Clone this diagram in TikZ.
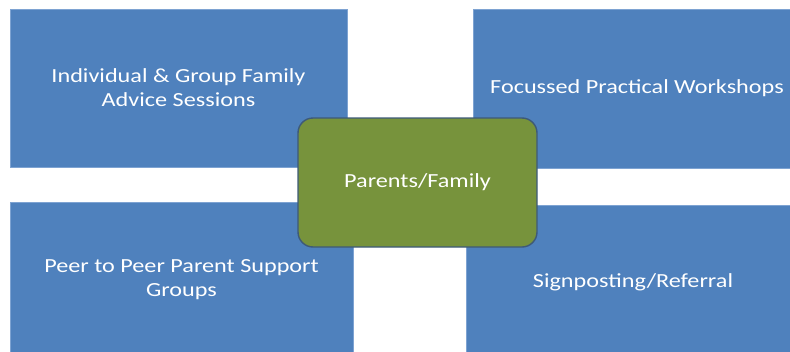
\documentclass[tikz,border=0pt]{standalone}
\usepackage{fontspec}
\setmainfont{Carlito}
\usepackage{graphicx}
\usepackage{tikz}
\definecolor{boxblue}{HTML}{4F81BD}
\definecolor{boxedge}{HTML}{7EA3D2}
\definecolor{hubgreen}{HTML}{77933C}
\definecolor{hubedge}{HTML}{3E5A78}
% text in the picture is set a little wider than usual
\newcommand{\wide}[1]{\scalebox{1.21}[1]{#1}}

\begin{document}
\begin{tikzpicture}[
      x=1pt, y=-1pt,
      area/.style={
        rectangle, draw=boxedge, fill=boxblue, line width=0.6pt,
        text=white, font=\fontsize{20}{24}\selectfont, align=center,
        inner sep=0pt
      },
      hub/.style={
        rectangle, rounded corners=15pt, draw=hubedge, fill=hubgreen,
        line width=1.4pt, text=white, font=\fontsize{20}{24}\selectfont,
        minimum width=239pt, minimum height=129pt, inner sep=0pt
      }
    ]
      \useasboundingbox (0,0) rectangle (790,351);
      \clip (0,0) rectangle (790,351);

      \node[area, minimum width=337pt, minimum height=158pt] (advice) at (178.5,88)
        {\wide{Individual \& Group Family}\\\wide{Advice Sessions}};
      \node[area, minimum width=328pt, minimum height=159pt] (workshops) at (637,88.5)
        {\wide{Focussed Practical Workshops}};
      \node[area, minimum width=343pt, minimum height=156pt] (peer) at (181.5,280)
        {\wide{Peer to Peer Parent Support}\\\wide{Groups}};
      \node[area, minimum width=333pt, minimum height=154pt] (signpost) at (633,282)
        {\wide{Signposting/Referral}};

      \node[hub] (family) at (417.5,182.5){\wide{Parents/Family}};
    \end{tikzpicture}
\end{document}
